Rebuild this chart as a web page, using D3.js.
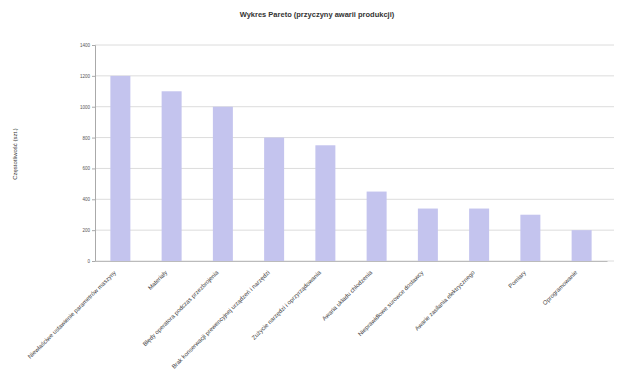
<!DOCTYPE html>
<html><head><meta charset="utf-8">
<script src="https://cdn.jsdelivr.net/npm/d3@7"></script>
<style>body{margin:0;background:#fff}svg{display:block}</style>
</head><body>
<script>
const categories = [
  "Niewłaściwe ustawienie parametrów maszyny",
  "Materiały",
  "Błędy operatora podczas przezbrojenia",
  "Brak konserwacji prewencyjnej urządzeń i narzędzi",
  "Zużycie narzędzi i oprzyrządowania",
  "Awaria układu chłodzenia",
  "Nieprawidłowe surowce dostawcy",
  "Awarie zasilania elektrycznego",
  "Pomiary",
  "Oprogramowanie"
];
const values = [1200, 1100, 1000, 800, 750, 450, 340, 340, 300, 200];
const yTicks = [0, 200, 400, 600, 800, 1000, 1200, 1400];
const title = "Wykres Pareto (przyczyny awarii produkcji)";
const yLabel = "Częstotliwość (szt.)";

const W = 618, H = 387;
const m = {left: 95, right: 11, top: 45, bottom: 126};
const svg = d3.select("body").append("svg").attr("width", W).attr("height", H);

const x = d3.scaleBand().domain(categories).range([m.left, W - m.right]).paddingInner(0.61).paddingOuter(0.3);
const y = d3.scaleLinear().domain([0, 1400]).range([H - m.bottom, m.top]);

// gridlines
svg.append("g").selectAll("line").data(yTicks).join("line")
  .attr("x1", m.left).attr("x2", W - 4)
  .attr("y1", d => y(d)).attr("y2", d => y(d))
  .attr("stroke", "#dcdcdc").attr("stroke-width", 1);

// bars
svg.append("g").selectAll("rect").data(values).join("rect")
  .attr("x", (d, i) => x(categories[i]))
  .attr("y", d => y(d))
  .attr("width", x.bandwidth())
  .attr("height", d => y(0) - y(d))
  .attr("fill", "#c4c4ee");

// y axis
const ya = svg.append("g").attr("transform", `translate(${m.left},0)`)
  .call(d3.axisLeft(y).tickValues(yTicks).tickSize(3).tickPadding(2).tickFormat(d3.format("d")));
ya.select(".domain").attr("stroke", "#aaa");
ya.selectAll(".tick line").attr("stroke", "#aaa");
ya.selectAll("text").attr("font-family", "Liberation Sans, Arial, sans-serif").attr("font-size", 4.5).attr("fill", "#555");

// x axis
const xa = svg.append("g").attr("transform", `translate(0,${y(0)})`)
  .call(d3.axisBottom(x).tickSize(0).tickPadding(0));
xa.select(".domain").attr("stroke", "#bbb");
xa.selectAll("text")
  .attr("font-family", "Liberation Sans, Arial, sans-serif").attr("font-size", 6).attr("fill", "#444")
  .attr("text-anchor", "end")
  .attr("dy", 0)
  .attr("transform", "translate(-4,12) rotate(-45)");

// title
svg.append("text").attr("x", 317).attr("y", 17).attr("text-anchor", "middle")
  .attr("font-family", "Liberation Sans, Arial, sans-serif").attr("font-size", 7.5).attr("font-weight", "bold").attr("fill", "#333")
  .text(title);

// y label
svg.append("text").attr("transform", `translate(17,154) rotate(-90)`).attr("text-anchor", "middle")
  .attr("font-family", "Liberation Sans, Arial, sans-serif").attr("font-size", 6).attr("fill", "#333")
  .text(yLabel);
</script>
</body></html>
